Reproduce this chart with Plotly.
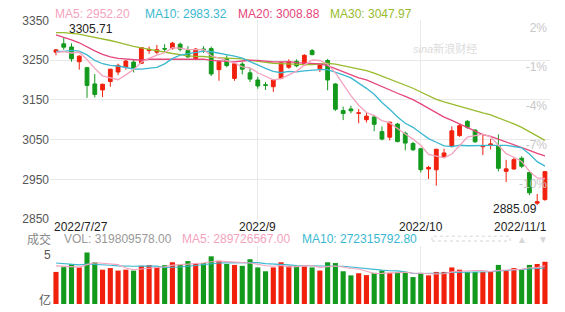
import math
import pandas as pd
import plotly.graph_objects as go

# ---------------- data ----------------
dates = [
    "2022-07-27", "2022-07-28", "2022-07-29",
    "2022-08-01", "2022-08-02", "2022-08-03", "2022-08-04", "2022-08-05",
    "2022-08-08", "2022-08-09", "2022-08-10", "2022-08-11", "2022-08-12",
    "2022-08-15", "2022-08-16", "2022-08-17", "2022-08-18", "2022-08-19",
    "2022-08-22", "2022-08-23", "2022-08-24", "2022-08-25", "2022-08-26",
    "2022-08-29", "2022-08-30", "2022-08-31", "2022-09-01", "2022-09-02",
    "2022-09-05", "2022-09-06", "2022-09-07", "2022-09-08", "2022-09-09",
    "2022-09-13", "2022-09-14", "2022-09-15", "2022-09-16",
    "2022-09-19", "2022-09-20", "2022-09-21", "2022-09-22", "2022-09-23",
    "2022-09-26", "2022-09-27", "2022-09-28", "2022-09-29", "2022-09-30",
    "2022-10-10", "2022-10-11", "2022-10-12", "2022-10-13", "2022-10-14",
    "2022-10-17", "2022-10-18", "2022-10-19", "2022-10-20", "2022-10-21",
    "2022-10-24", "2022-10-25", "2022-10-26", "2022-10-27", "2022-10-28",
    "2022-10-31", "2022-11-01",
]

open_ = [3270, 3291, 3283, 3246, 3231, 3190, 3175, 3196, 3220, 3232,
         3245, 3242, 3274, 3270, 3279, 3280, 3290, 3274, 3254, 3278,
         3279, 3226, 3254, 3204, 3240, 3218, 3200, 3188, 3183, 3204,
         3232, 3247, 3238, 3274, 3228, 3249, 3190, 3123, 3127, 3116,
         3100, 3107, 3070, 3056, 3089, 3066, 3040, 3027, 2976, 2974,
         3007, 3033, 3060, 3096, 3074, 3032, 3036, 3033, 2970, 2976,
         3003, 2967, 2890, 2899]

high = [3278, 3305.71, 3292, 3262, 3233, 3215, 3191, 3228, 3241, 3250,
        3250, 3283, 3284, 3288, 3290, 3296, 3294, 3285, 3280, 3285,
        3284, 3248, 3262, 3243, 3245, 3230, 3208, 3195, 3202, 3246,
        3252, 3252, 3265, 3278, 3243, 3253, 3192, 3133, 3135, 3127,
        3117, 3112, 3083, 3095, 3092, 3070, 3044, 3029, 2984, 3027,
        3027, 3083, 3089, 3099, 3076, 3064, 3052, 3063, 2999, 3005,
        3008, 2970, 2913, 2971]

low = [3262, 3276, 3246, 3226, 3155, 3156, 3157, 3183, 3212, 3226,
       3219, 3240, 3266, 3265, 3270, 3276, 3272, 3256, 3250, 3268,
       3210, 3198, 3232, 3198, 3214, 3195, 3178, 3175, 3170, 3202,
       3228, 3232, 3236, 3262, 3220, 3174, 3122, 3099, 3116, 3091,
       3093, 3071, 3048, 3048, 3043, 3023, 3021, 2967, 2951, 2934,
       3003, 3030, 3057, 3077, 3042, 3011, 3025, 2970, 2943, 2974,
       2978, 2910, 2885.09, 2896]

close = [3275.76, 3282.58, 3253.24, 3259.96, 3186.27, 3163.67, 3189.04, 3227.03, 3236.93, 3247.43,
         3230.02, 3281.67, 3276.89, 3276.09, 3277.88, 3292.53, 3277.54, 3258.08, 3277.79, 3276.22,
         3215.20, 3246.25, 3236.22, 3240.73, 3227.22, 3202.14, 3184.98, 3186.48, 3199.91, 3243.45,
         3246.29, 3235.59, 3262.05, 3263.80, 3237.54, 3199.92, 3126.40, 3115.60, 3122.41, 3117.18,
         3108.91, 3088.37, 3051.23, 3093.86, 3045.07, 3041.20, 3024.39, 2974.15, 2979.79, 3025.51,
         3016.36, 3071.99, 3084.94, 3080.96, 3044.39, 3035.05, 3038.93, 2977.56, 2976.28, 2999.50,
         2982.90, 2915.93, 2893.48, 2969.20]

# closes of the 29 sessions before the window (needed for the moving averages)
prior_close = [3285.38, 3316.79, 3315.43, 3306.72, 3267.20, 3320.15, 3349.75, 3379.19, 3409.21,
               3361.52, 3398.62, 3387.64, 3405.43, 3404.03, 3355.35, 3364.40, 3356.08, 3313.58,
               3281.47, 3284.29, 3281.74, 3228.06, 3278.10, 3279.43, 3304.72, 3272.00, 3269.97,
               3250.39, 3277.44]

volume = [243000000, 279000000, 301000000, 277000000, 390000000, 316000000, 260000000, 272000000, 253000000, 260000000,
          253000000, 289000000, 294000000, 279000000, 294000000, 316000000, 296000000, 325000000, 305000000, 310000000,
          361000000, 327000000, 303000000, 296000000, 289000000, 339000000, 277000000, 248000000, 277000000, 316000000,
          289000000, 284000000, 284000000, 277000000, 253000000, 316000000, 310000000, 248000000, 217000000, 233000000,
          219000000, 236000000, 255000000, 236000000, 240000000, 238000000, 204000000, 236000000, 217000000, 243000000,
          243000000, 277000000, 260000000, 243000000, 243000000, 243000000, 243000000, 296000000, 249525093, 272000000,
          258000000, 296000000, 302823257, 319809578]

prior_volume = [335000000, 330000000, 340000000, 325000000, 335000000, 300000000, 305000000, 300000000, 295000000]

pct_base = 3266.0                  # reference price of the % scale
price_range = [2850, 3350]
price_ticks = [2850, 2950, 3050, 3150, 3250, 3350]
pct_ticks = [2, -1, -4, -7, -10]

# ---------------- style ----------------
RED = "#f0200c"
GREEN = "#139a1d"
C_MA5 = "#f4a3bd"
C_MA10 = "#3bb8d0"
C_MA20 = "#e5467b"
C_MA30 = "#98bb2d"
GRID = "#e9e9e9"
FONT = "Liberation Sans, Arial, Noto Sans CJK SC, sans-serif"

W, H = 565, 312
ML, MR = 50, 15
PRICE_TOP, PRICE_BOT = 14, 222
VOL_TOP, VOL_BOT = 250, 311


def py(px):
    return (H - px) / H


def px_x(px):
    return (px - ML) / (W - ML - MR)


n = len(dates)
xs = list(range(n))

closes_all = pd.Series(prior_close + close, dtype=float)
ma = {k: closes_all.rolling(k).mean().iloc[len(prior_close):].tolist() for k in (5, 10, 20, 30)}
vol_all = pd.Series(prior_volume + volume, dtype=float)
vma = {k: vol_all.rolling(k).mean().iloc[len(prior_volume):].tolist() for k in (5, 10)}

bar_colors = [RED if c >= o else GREEN for o, c in zip(open_, close)]
vol_top = max(volume) * 1.13

dt = pd.to_datetime(dates)
EDGE_GAP = 10  # month marks too close to the window edges are not labelled
month_idx = [i for i in range(EDGE_GAP, n - EDGE_GAP) if dt[i].month != dt[i - 1].month]

fig = go.Figure()

fig.add_trace(go.Candlestick(
    x=xs, open=open_, high=high, low=low, close=close,
    increasing=dict(line=dict(color=RED, width=1), fillcolor=RED),
    decreasing=dict(line=dict(color=GREEN, width=1), fillcolor=GREEN),
    whiskerwidth=0, xaxis="x", yaxis="y", showlegend=False, hoverinfo="skip"))

for k, col in ((30, C_MA30), (20, C_MA20), (10, C_MA10), (5, C_MA5)):
    fig.add_trace(go.Scatter(x=xs, y=ma[k], mode="lines", line=dict(color=col, width=1.3),
                             xaxis="x", yaxis="y", showlegend=False, hoverinfo="skip"))

fig.add_trace(go.Scatter(x=xs, y=[(c / pct_base - 1) * 100 for c in close], mode="lines",
                         line=dict(width=0), opacity=0, xaxis="x", yaxis="y3",
                         showlegend=False, hoverinfo="skip"))

fig.add_trace(go.Bar(x=xs, y=volume, marker=dict(color=bar_colors, line=dict(width=0)),
                     xaxis="x2", yaxis="y2", showlegend=False, hoverinfo="skip"))
for k, col in ((10, C_MA10), (5, C_MA5)):
    fig.add_trace(go.Scatter(x=xs, y=vma[k], mode="lines", line=dict(color=col, width=1.1),
                             xaxis="x2", yaxis="y2", showlegend=False, hoverinfo="skip"))

xr = [-0.77, n - 1 + 0.65]
common_x = dict(range=xr, tickvals=month_idx, showticklabels=False, showgrid=True,
                gridcolor=GRID, gridwidth=1, zeroline=False, ticks="", showline=False, fixedrange=True)

fig.update_layout(
    width=W, height=H,
    margin=dict(l=ML, r=MR, t=0, b=0),
    paper_bgcolor="white", plot_bgcolor="white",
    font=dict(family=FONT, size=12, color="#333"),
    bargap=0.34,
    hovermode=False,
    xaxis=dict(domain=[0, 1], anchor="y", rangeslider=dict(visible=False), **common_x),
    xaxis2=dict(domain=[0, 1], anchor="y2", matches="x", **common_x),
    yaxis=dict(domain=[py(PRICE_BOT), py(PRICE_TOP)], range=price_range, tickvals=price_ticks,
               showgrid=True, gridcolor=GRID, zeroline=False, ticks="", showline=False,
               tickfont=dict(color="#555", size=12), fixedrange=True),
    yaxis3=dict(overlaying="y", anchor="x", side="right",
                range=[(price_range[0] / pct_base - 1) * 100, (price_range[1] / pct_base - 1) * 100],
                tickvals=pct_ticks, ticktext=[f"{v}%" for v in pct_ticks],
                ticklabelposition="inside", showgrid=False, zeroline=False, ticks="",
                showline=False, tickfont=dict(color="#c8c8c8", size=12), fixedrange=True),
    yaxis2=dict(domain=[py(VOL_BOT), py(VOL_TOP)], range=[0, vol_top], tickvals=[vol_top],
                showticklabels=False, showgrid=True, gridcolor=GRID, zeroline=False,
                ticks="", showline=False, fixedrange=True),
)

ann = []
# top MA legend
ty = py(7)
for xpx, lbl, val, col in ((53, "MA5", ma[5][-1], C_MA5), (143, "MA10", ma[10][-1], C_MA10),
                           (236, "MA20", ma[20][-1], C_MA20), (328, "MA30", ma[30][-1], C_MA30)):
    ann.append(dict(xref="paper", yref="paper", x=px_x(xpx), y=ty, xanchor="left", yanchor="middle",
                    text=f"{lbl}: {val:.2f}", showarrow=False, font=dict(color=col, size=12)))

# volume legend
vy = py(243)
ann.append(dict(xref="paper", yref="paper", x=px_x(53), y=vy, xanchor="right", yanchor="middle",
                text="成交", showarrow=False, font=dict(color="#888", size=12)))
for xpx, txt, col in ((62, f"VOL: {volume[-1]:.2f}", "#999"),
                      (180, f"MA5: {vma[5][-1]:.2f}", C_MA5),
                      (300, f"MA10: {vma[10][-1]:.2f}", C_MA10)):
    ann.append(dict(xref="paper", yref="paper", x=px_x(xpx), y=vy, xanchor="left", yanchor="middle",
                    text=txt, showarrow=False, font=dict(color=col, size=12)))

# volume axis labels
ann.append(dict(xref="paper", yref="y2 domain", x=px_x(53), y=1, xanchor="right", yanchor="top",
                text=str(math.ceil(vol_top / 1e8)), showarrow=False, font=dict(color="#555", size=12)))
ann.append(dict(xref="paper", yref="y2 domain", x=px_x(53), y=0, xanchor="right", yanchor="bottom",
                yshift=-6, text="亿", showarrow=False, font=dict(color="#555", size=12)))

# date labels
def dlabel(i, full):
    d = dt[i]
    return f"{d.year}/{d.month}/{d.day}" if full else f"{d.year}/{d.month}"

ann.append(dict(xref="x", yref="y domain", x=0, y=0, xanchor="left", yanchor="top", xshift=-4,
                yshift=1, text=dlabel(0, True), showarrow=False, font=dict(color="#222", size=12)))
for i in month_idx:
    ann.append(dict(xref="x", yref="y domain", x=i, y=0, xanchor="center", yanchor="top", yshift=1,
                    text=dlabel(i, False), showarrow=False, font=dict(color="#222", size=12)))
ann.append(dict(xref="x", yref="y domain", x=n - 1, y=0, xanchor="right", yanchor="top", xshift=4,
                yshift=1, text=dlabel(n - 1, True), showarrow=False, font=dict(color="#222", size=12)))

# extremes
imax = max(range(n), key=lambda i: high[i])
imin = min(range(n), key=lambda i: low[i])
ann.append(dict(xref="x", yref="y", x=imax, y=high[imax], xanchor="left", yanchor="bottom", xshift=3,
                text=f"{high[imax]:.2f}", showarrow=False, font=dict(color="#222", size=12)))
ann.append(dict(xref="x", yref="y", x=imin, y=low[imin], xanchor="right", yanchor="middle",
                xshift=2, yshift=-4, text=f"{low[imin]:.2f}", showarrow=False,
                font=dict(color="#222", size=12)))

# watermark
ann.append(dict(xref="paper", yref="paper", x=px_x(445), y=py(43), xanchor="center", yanchor="middle",
                text="<i>sina</i>新浪财经", showarrow=False, font=dict(color="#dcdcdc", size=11)))

# scroll widget arrows
ann.append(dict(xref="paper", yref="paper", x=px_x(522), y=py(243), xanchor="center", yanchor="middle",
                text="▲", showarrow=False, font=dict(color="#d6d6d6", size=10)))
ann.append(dict(xref="paper", yref="paper", x=px_x(543), y=py(243), xanchor="center", yanchor="middle",
                text="▼", showarrow=False, font=dict(color="#d6d6d6", size=10)))

fig.update_layout(annotations=ann)

fig.add_shape(type="rect", xref="paper", yref="paper", x0=px_x(432), x1=px_x(510),
              y0=py(245), y1=py(240), line=dict(color="#d4d4d4", width=1, dash="dot"),
              fillcolor="rgba(0,0,0,0)", layer="above")

fig.write_html("out.html")
